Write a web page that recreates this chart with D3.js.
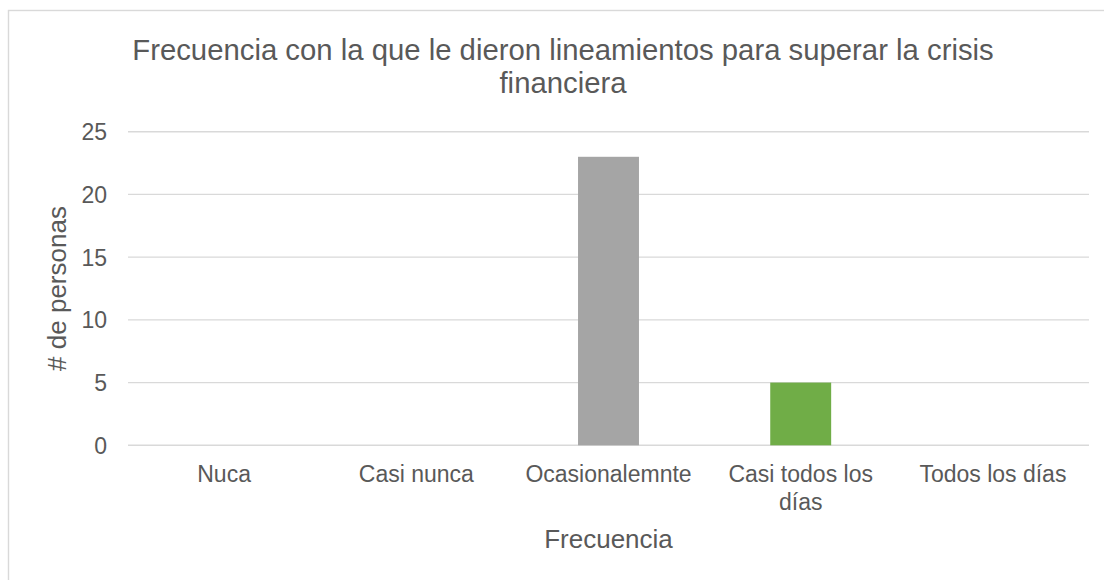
<!DOCTYPE html>
<html>
<head>
<meta charset="utf-8">
<script src="https://cdn.jsdelivr.net/npm/d3@7"></script>
<style>
  html, body { margin: 0; padding: 0; background: #fff; }
  svg { display: block; font-family: "Liberation Sans", Arial, sans-serif; }
</style>
</head>
<body>
<svg id="chart" width="1104" height="580"></svg>
<script>
// Data
const categories = ["Nuca", "Casi nunca", "Ocasionalemnte", "Casi todos los días", "Todos los días"];
const values = [0, 0, 23, 5, 0];
const barColors = ["#4472c4", "#ed7d31", "#a5a5a5", "#70ad47", "#ffc000"];
const yTicks = [0, 5, 10, 15, 20, 25];
const titleLines = ["Frecuencia con la que le dieron lineamientos para superar la crisis", "financiera"];
const xTitle = "Frecuencia";
const yTitle = "# de personas";

const svg = d3.select("#chart");
const textColor = "#595959";
const gridColor = "#d9d9d9";

// Chart frame
svg.append("rect")
  .attr("x", 8.5).attr("y", 10.5)
  .attr("width", 1120).attr("height", 600)
  .attr("fill", "#fff")
  .attr("stroke", gridColor).attr("stroke-width", 1.4);

const plot = { left: 128, right: 1089, top: 131.7, bottom: 445.3 };

const x = d3.scaleBand()
  .domain(categories)
  .range([plot.left, plot.right])
  .paddingInner(0.683)
  .paddingOuter(0.3415);

const y = d3.scaleLinear()
  .domain([0, 25])
  .range([plot.bottom, plot.top]);

// Gridlines
svg.append("g")
  .selectAll("line")
  .data(yTicks)
  .join("line")
  .attr("x1", plot.left).attr("x2", plot.right)
  .attr("y1", d => y(d)).attr("y2", d => y(d))
  .attr("stroke", gridColor).attr("stroke-width", 1.4);

// Y axis labels
const yAxis = d3.axisLeft(y).tickValues(yTicks).tickSize(0).tickPadding(0);
const yG = svg.append("g")
  .attr("transform", `translate(${plot.left - 21},0)`)
  .call(yAxis);
yG.select(".domain").remove();
yG.selectAll("text")
  .attr("fill", textColor)
  .style("font-size", "23px")
  .attr("dy", "0.35em");

// Bars
svg.append("g")
  .selectAll("rect")
  .data(categories)
  .join("rect")
  .attr("x", d => x(d))
  .attr("width", x.bandwidth())
  .attr("y", (d, i) => y(values[i]))
  .attr("height", (d, i) => y(0) - y(values[i]))
  .attr("fill", (d, i) => barColors[i]);

// X axis labels (wrapped to the category width)
const xAxis = d3.axisBottom(x).tickSize(0).tickPadding(0);
const xG = svg.append("g")
  .attr("transform", `translate(0,${plot.bottom})`)
  .call(xAxis);
xG.select(".domain").remove();
xG.selectAll("text")
  .attr("fill", textColor)
  .style("font-size", "23px")
  .attr("y", 0)
  .attr("dy", 0)
  .each(function(d) {
    const t = d3.select(this);
    const words = d.split(" ");
    const maxW = x.step() - 10;
    t.text(null);
    let line = [];
    let lineNo = 0;
    let tspan = t.append("tspan").attr("x", 0).attr("y", 37);
    words.forEach(w => {
      line.push(w);
      tspan.text(line.join(" "));
      if (tspan.node().getComputedTextLength() > maxW && line.length > 1) {
        line.pop();
        tspan.text(line.join(" "));
        line = [w];
        lineNo += 1;
        tspan = t.append("tspan").attr("x", 0).attr("y", 37 + lineNo * 28).text(w);
      }
    });
  });

// Chart title
const title = svg.append("text")
  .attr("text-anchor", "middle")
  .attr("fill", textColor)
  .style("font-size", "29.3px");
titleLines.forEach((l, i) => {
  title.append("tspan")
    .attr("x", 563)
    .attr("y", 59.5 + i * 33)
    .text(l);
});

// Axis titles
svg.append("text")
  .attr("x", (plot.left + plot.right) / 2)
  .attr("y", 547.5)
  .attr("text-anchor", "middle")
  .attr("fill", textColor)
  .style("font-size", "26px")
  .text(xTitle);

svg.append("text")
  .attr("transform", `translate(66,${(plot.top + plot.bottom) / 2}) rotate(-90)`)
  .attr("text-anchor", "middle")
  .attr("fill", textColor)
  .style("font-size", "26px")
  .text(yTitle);
</script>
</body>
</html>
